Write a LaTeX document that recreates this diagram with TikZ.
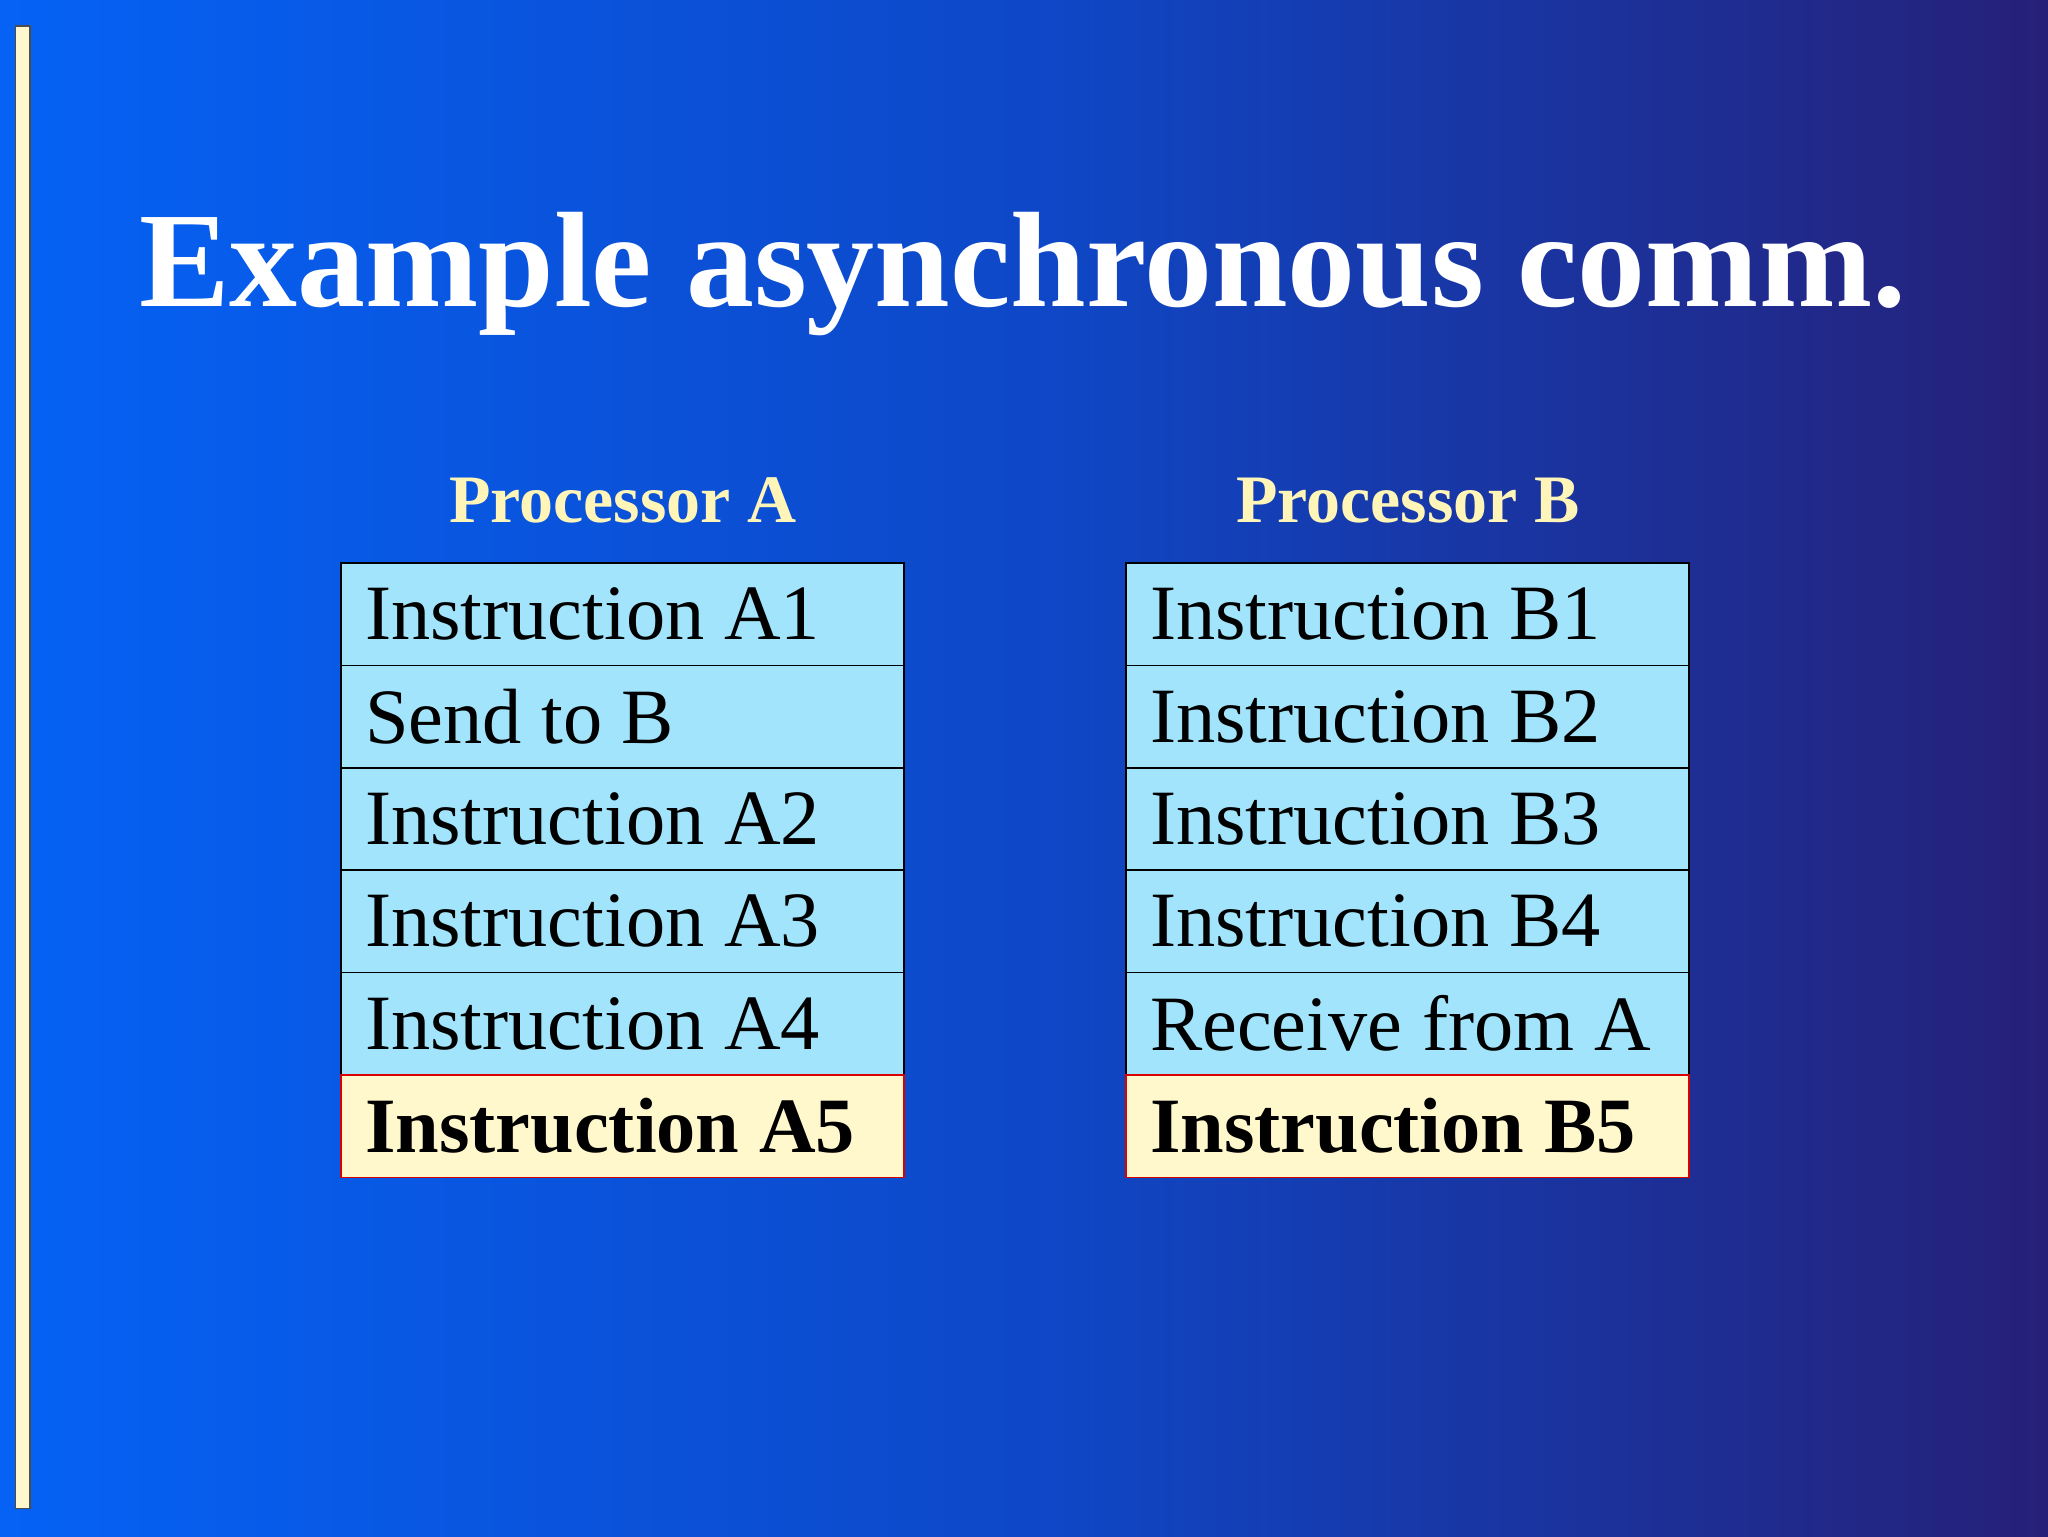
\documentclass[tikz,border=0pt]{standalone}
\usepackage{fontspec}
\setmainfont{Liberation Serif}
\definecolor{bgl}{HTML}{0562F5}
\definecolor{bgm}{HTML}{0E48C8}
\definecolor{bgr}{HTML}{262078}
\definecolor{cell}{HTML}{A2E4FB}
\definecolor{cream}{HTML}{FFF8CC}
\definecolor{headc}{HTML}{FFF5B8}
\begin{document}
\begin{tikzpicture}[x=1pt,y=-1pt,
  cellbox/.style={draw=black,line width=1.2pt,fill=cell,minimum width=431pt,minimum height=78.4pt,inner sep=0pt,outer sep=0pt,anchor=north west},
  lastbox/.style={cellbox,fill=cream,draw=red!85!black},
  celltxt/.style={anchor=west,font=\fontsize{60}{60}\selectfont,text=black},
  head/.style={font=\bfseries\fontsize{52}{52}\selectfont,text=headc}]
\useasboundingbox (0,0) rectangle (1568,1176);
\shade[left color=bgl,right color=bgr,middle color=bgm] (0,0) rectangle (1568,1176);
\draw[fill=cream,draw=black!70,line width=1.2pt] (12,20) rectangle (23,1155);
\node[font=\bfseries\fontsize{104}{104}\selectfont,text=white] (title) at (783,210) {Example asynchronous comm.};
\node[head] (ha) at (477,383) {Processor A};
\node[head] (hb) at (1078,383) {Processor B};
\foreach \col/\x/\labs in {a/261/{Instruction A1,Send to B,Instruction A2,Instruction A3,Instruction A4},b/862/{Instruction B1,Instruction B2,Instruction B3,Instruction B4,Receive from A}}{
  \foreach \t [count=\i from 0] in \labs {
    \node[cellbox] (\col\i) at (\x,431+78.4*\i) {};
    \node[celltxt] (\col t\i) at ([xshift=15pt]\col\i.west) {\t};
  }
}
\node[lastbox] (a5) at (261,823) {};
\node[celltxt,font=\bfseries\fontsize{60}{60}\selectfont] (at5) at ([xshift=15pt]a5.west) {Instruction A5};
\node[lastbox] (b5) at (862,823) {};
\node[celltxt,font=\bfseries\fontsize{60}{60}\selectfont] (bt5) at ([xshift=15pt]b5.west) {Instruction B5};
\end{tikzpicture}
\end{document}
